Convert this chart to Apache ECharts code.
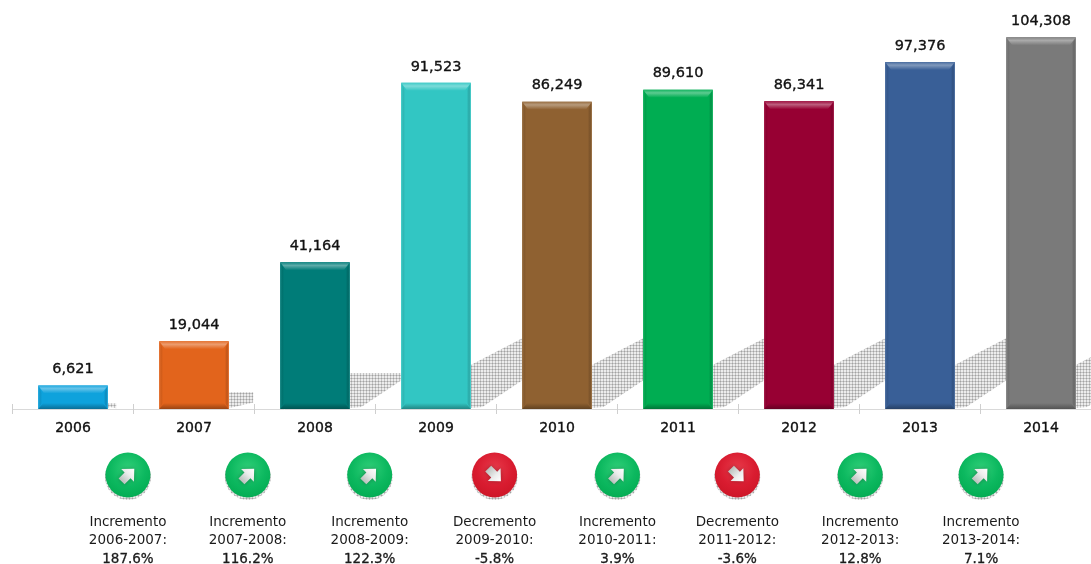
<!DOCTYPE html>
<html>
<head>
<meta charset="utf-8">
<style>
  html, body { margin: 0; padding: 0; background: #fff; overflow: hidden; width: 1091px; height: 564px; }
  /* The last category runs past the right edge, so the chart is wider than the page */
  #chart { width: 1120px; height: 564px; }
</style>
<script src="https://cdn.jsdelivr.net/npm/echarts@6/dist/echarts.min.js"></script>
</head>
<body>
<div id="chart"></div>
<script>
// Yearly totals
const years = ['2006', '2007', '2008', '2009', '2010', '2011', '2012', '2013', '2014'];
const totals = [6621, 19044, 41164, 91523, 86249, 89610, 86341, 97376, 104308];

// Year-on-year change
const changePeriods = ['2006-2007', '2007-2008', '2008-2009', '2009-2010', '2010-2011', '2011-2012', '2012-2013', '2013-2014'];
const changePercents = [187.6, 116.2, 122.3, -5.8, 3.9, -3.6, 12.8, 7.1];

// One base colour per bar
const barColors = ['#0ea2dc', '#e2641c', '#007c78', '#32c6c3', '#8f6131', '#00ad52', '#970033', '#395f97', '#7a7a7a'];

// Small horizontal corrections for the hand-placed badges and captions
const badgeNudge = [0, -2, -2, 1, 2, 0, 1, 0];

const FONT = '"DejaVu Sans", Verdana, sans-serif';

function mix(hex, target, t) {
  const n = parseInt(hex.slice(1), 16), m = parseInt(target.slice(1), 16);
  const ch = s => Math.round(((n >> s) & 255) * (1 - t) + ((m >> s) & 255) * t);
  return `rgb(${ch(16)},${ch(8)},${ch(0)})`;
}
const lighter = (c, t) => mix(c, '#ffffff', t);
const darker = (c, t) => mix(c, '#000000', t);

const linear = (x, y, x2, y2, stops) => ({
  type: 'linear', x, y, x2, y2,
  colorStops: stops.map(([offset, color]) => ({ offset, color }))
});

// Halftone tile used for the cast shadows
function halftone() {
  const tile = document.createElement('canvas');
  tile.width = tile.height = 3;
  const g = tile.getContext('2d');
  g.fillStyle = '#c4c4c4';
  g.fillRect(0, 0, 3, 3);
  g.fillStyle = '#a2a2a2';
  g.fillRect(0, 0, 1, 1);
  g.fillStyle = '#ececec';
  g.fillRect(1, 1, 2, 2);
  return tile;
}
const dots = halftone();

// Cast shadow to the right of a bar; its reach grows with the bar's height
function renderShadow(params, api) {
  const top = api.coord([api.value(0), api.value(1)]);
  const base = api.coord([api.value(0), 0]);
  const w = api.size([1, 0])[0] * 0.575;
  const right = top[0] + w / 2;
  const h = base[1] - top[1];
  const spread = Math.min(h * 0.36, 52);
  const upNear = Math.min(44, h * 0.245);
  const upFar = Math.min(71, h * 0.245);
  const lowFar = spread * spread * 0.0107;
  return {
    type: 'polygon',
    silent: true,
    shape: {
      points: [
        [right, base[1] - 1],
        [right, base[1] - upNear],
        [right + spread, base[1] - upFar],
        [right + spread, base[1] - lowFar],
        [right + spread * 0.22, base[1] - 2]
      ]
    },
    style: { fill: { image: dots, repeat: 'repeat' } }
  };
}

// Bevelled bar with its value above it
function renderBar(params, api) {
  const i = api.value(0);
  const v = api.value(1);
  const top = api.coord([i, v]);
  const base = api.coord([i, 0]);
  const w = api.size([1, 0])[0] * 0.575;
  const x0 = top[0] - w / 2, x1 = top[0] + w / 2;
  const y0 = top[1], y1 = base[1];
  const c = barColors[i];
  const band = 8, side = 4, foot = 6;
  return {
    type: 'group',
    children: [
      { type: 'rect', shape: { x: x0, y: y0, width: w, height: y1 - y0 }, style: { fill: c } },
      {
        type: 'polygon',
        shape: { points: [[x0, y0], [x0 + side, y0 + band], [x0 + side, y1 - foot], [x0, y1]] },
        style: { fill: linear(0, 0, 1, 0, [[0, lighter(c, 0.08)], [0.5, darker(c, 0.08)], [1, c]]) }
      },
      {
        type: 'polygon',
        shape: { points: [[x1, y0], [x1 - side, y0 + band], [x1 - side, y1 - foot], [x1, y1]] },
        style: { fill: linear(0, 0, 1, 0, [[0, c], [0.6, darker(c, 0.16)], [1, lighter(c, 0.08)]]) }
      },
      {
        type: 'polygon',
        shape: { points: [[x0, y1], [x0 + side + 1, y1 - foot], [x1 - side - 1, y1 - foot], [x1, y1]] },
        style: { fill: linear(0, 0, 0, 1, [[0, c], [1, darker(c, 0.32)]]) }
      },
      {
        type: 'polygon',
        shape: { points: [[x0, y0], [x1, y0], [x1 - side - 2, y0 + band], [x0 + side + 2, y0 + band]] },
        style: { fill: linear(0, 0, 0, 1, [[0, lighter(c, 0.08)], [0.4, lighter(c, 0.36)], [1, c]]) }
      },
      {
        type: 'text',
        style: {
          text: v.toLocaleString('en-US'),
          x: top[0],
          y: y0 - 16,
          align: 'center',
          verticalAlign: 'middle',
          font: `14.5px ${FONT}`,
          fill: '#111',
          stroke: '#111',
          lineWidth: 0.35
        }
      }
    ]
  };
}

// Round direction badge and the three caption lines under it
function renderChange(params, api) {
  const i = api.value(0);
  const pct = changePercents[i];
  const up = pct >= 0;
  const cx = api.coord([i, 0])[0] + badgeNudge[i];
  const cy = 475;
  const r = 22.5;
  const face = up
    ? [[0, '#2fcf78'], [0.55, '#0cb85f'], [0.85, '#05ae55'], [1, '#099a4d']]
    : [[0, '#e83a4a'], [0.55, '#d91c30'], [0.85, '#cf1729'], [1, '#b41224']];
  const line = (text, y, extra) => ({
    type: 'text',
    style: Object.assign({
      text, x: cx, y,
      align: 'center',
      verticalAlign: 'middle',
      font: `13.5px ${FONT}`,
      fill: '#1a1a1a'
    }, extra)
  });
  return {
    type: 'group',
    children: [
      { type: 'circle', shape: { cx, cy: cy + 2, r: r + 0.5 }, style: { fill: { image: dots, repeat: 'repeat' } } },
      {
        type: 'circle',
        shape: { cx, cy, r },
        style: {
          fill: { type: 'radial', x: 0.5, y: 0.36, r: 0.72, colorStops: face.map(([offset, color]) => ({ offset, color })) }
        }
      },
      {
        type: 'polygon',
        x: cx,
        y: cy,
        rotation: up ? Math.PI / 4 : -Math.PI / 4,
        shape: { points: [[-9, -4.2], [-0.5, -4.2], [-0.5, -9], [9, 0], [-0.5, 9], [-0.5, 4.2], [-9, 4.2]] },
        style: {
          fill: linear(0, 0, 1, 0, [[0, '#b9c0bc'], [0.55, '#ededed'], [1, '#ffffff']]),
          shadowBlur: 4,
          shadowColor: 'rgba(0,0,0,0.3)'
        }
      },
      line(up ? 'Incremento' : 'Decremento', 522),
      line(changePeriods[i] + ':', 540),
      line(pct + '%', 559, { stroke: '#1a1a1a', lineWidth: 0.3 })
    ]
  };
}

const chart = echarts.init(document.getElementById('chart'), null, { renderer: 'canvas' });
chart.setOption({
  backgroundColor: '#ffffff',
  animation: false,
  grid: [
    { left: 12.5, top: 17, width: 1089, height: 392 },
    { left: 67, top: 440, width: 975, height: 124 }
  ],
  xAxis: [
    {
      gridIndex: 0,
      type: 'category',
      data: years,
      axisLine: { lineStyle: { color: '#d9d9d9', width: 1 } },
      axisTick: { show: true, length: 5, lineStyle: { color: '#cfcfcf' } },
      axisLabel: {
        margin: 12,
        fontFamily: FONT,
        fontSize: 14,
        color: '#111',
        textBorderColor: '#111',
        textBorderWidth: 0.35
      }
    },
    {
      // Same scale again, only to carry the upper half of each tick
      gridIndex: 0,
      type: 'category',
      position: 'bottom',
      data: years,
      axisLine: { show: false },
      axisTick: { show: true, inside: true, length: 5, lineStyle: { color: '#cfcfcf' } },
      axisLabel: { show: false }
    },
    { gridIndex: 1, type: 'category', data: changePeriods, show: false }
  ],
  yAxis: [
    { gridIndex: 0, type: 'value', min: 0, max: 110000, show: false },
    { gridIndex: 1, type: 'value', min: 0, max: 1, show: false }
  ],
  series: [
    {
      type: 'custom',
      xAxisIndex: 0,
      yAxisIndex: 0,
      z: 1,
      renderItem: renderShadow,
      encode: { x: 0, y: 1 },
      data: totals.map((v, i) => [i, v])
    },
    {
      type: 'custom',
      xAxisIndex: 0,
      yAxisIndex: 0,
      z: 3,
      renderItem: renderBar,
      encode: { x: 0, y: 1 },
      data: totals.map((v, i) => [i, v])
    },
    {
      type: 'custom',
      xAxisIndex: 2,
      yAxisIndex: 1,
      z: 3,
      renderItem: renderChange,
      encode: { x: 0, y: 1 },
      data: changePercents.map((v, i) => [i, 0])
    }
  ]
});
</script>
</body>
</html>
